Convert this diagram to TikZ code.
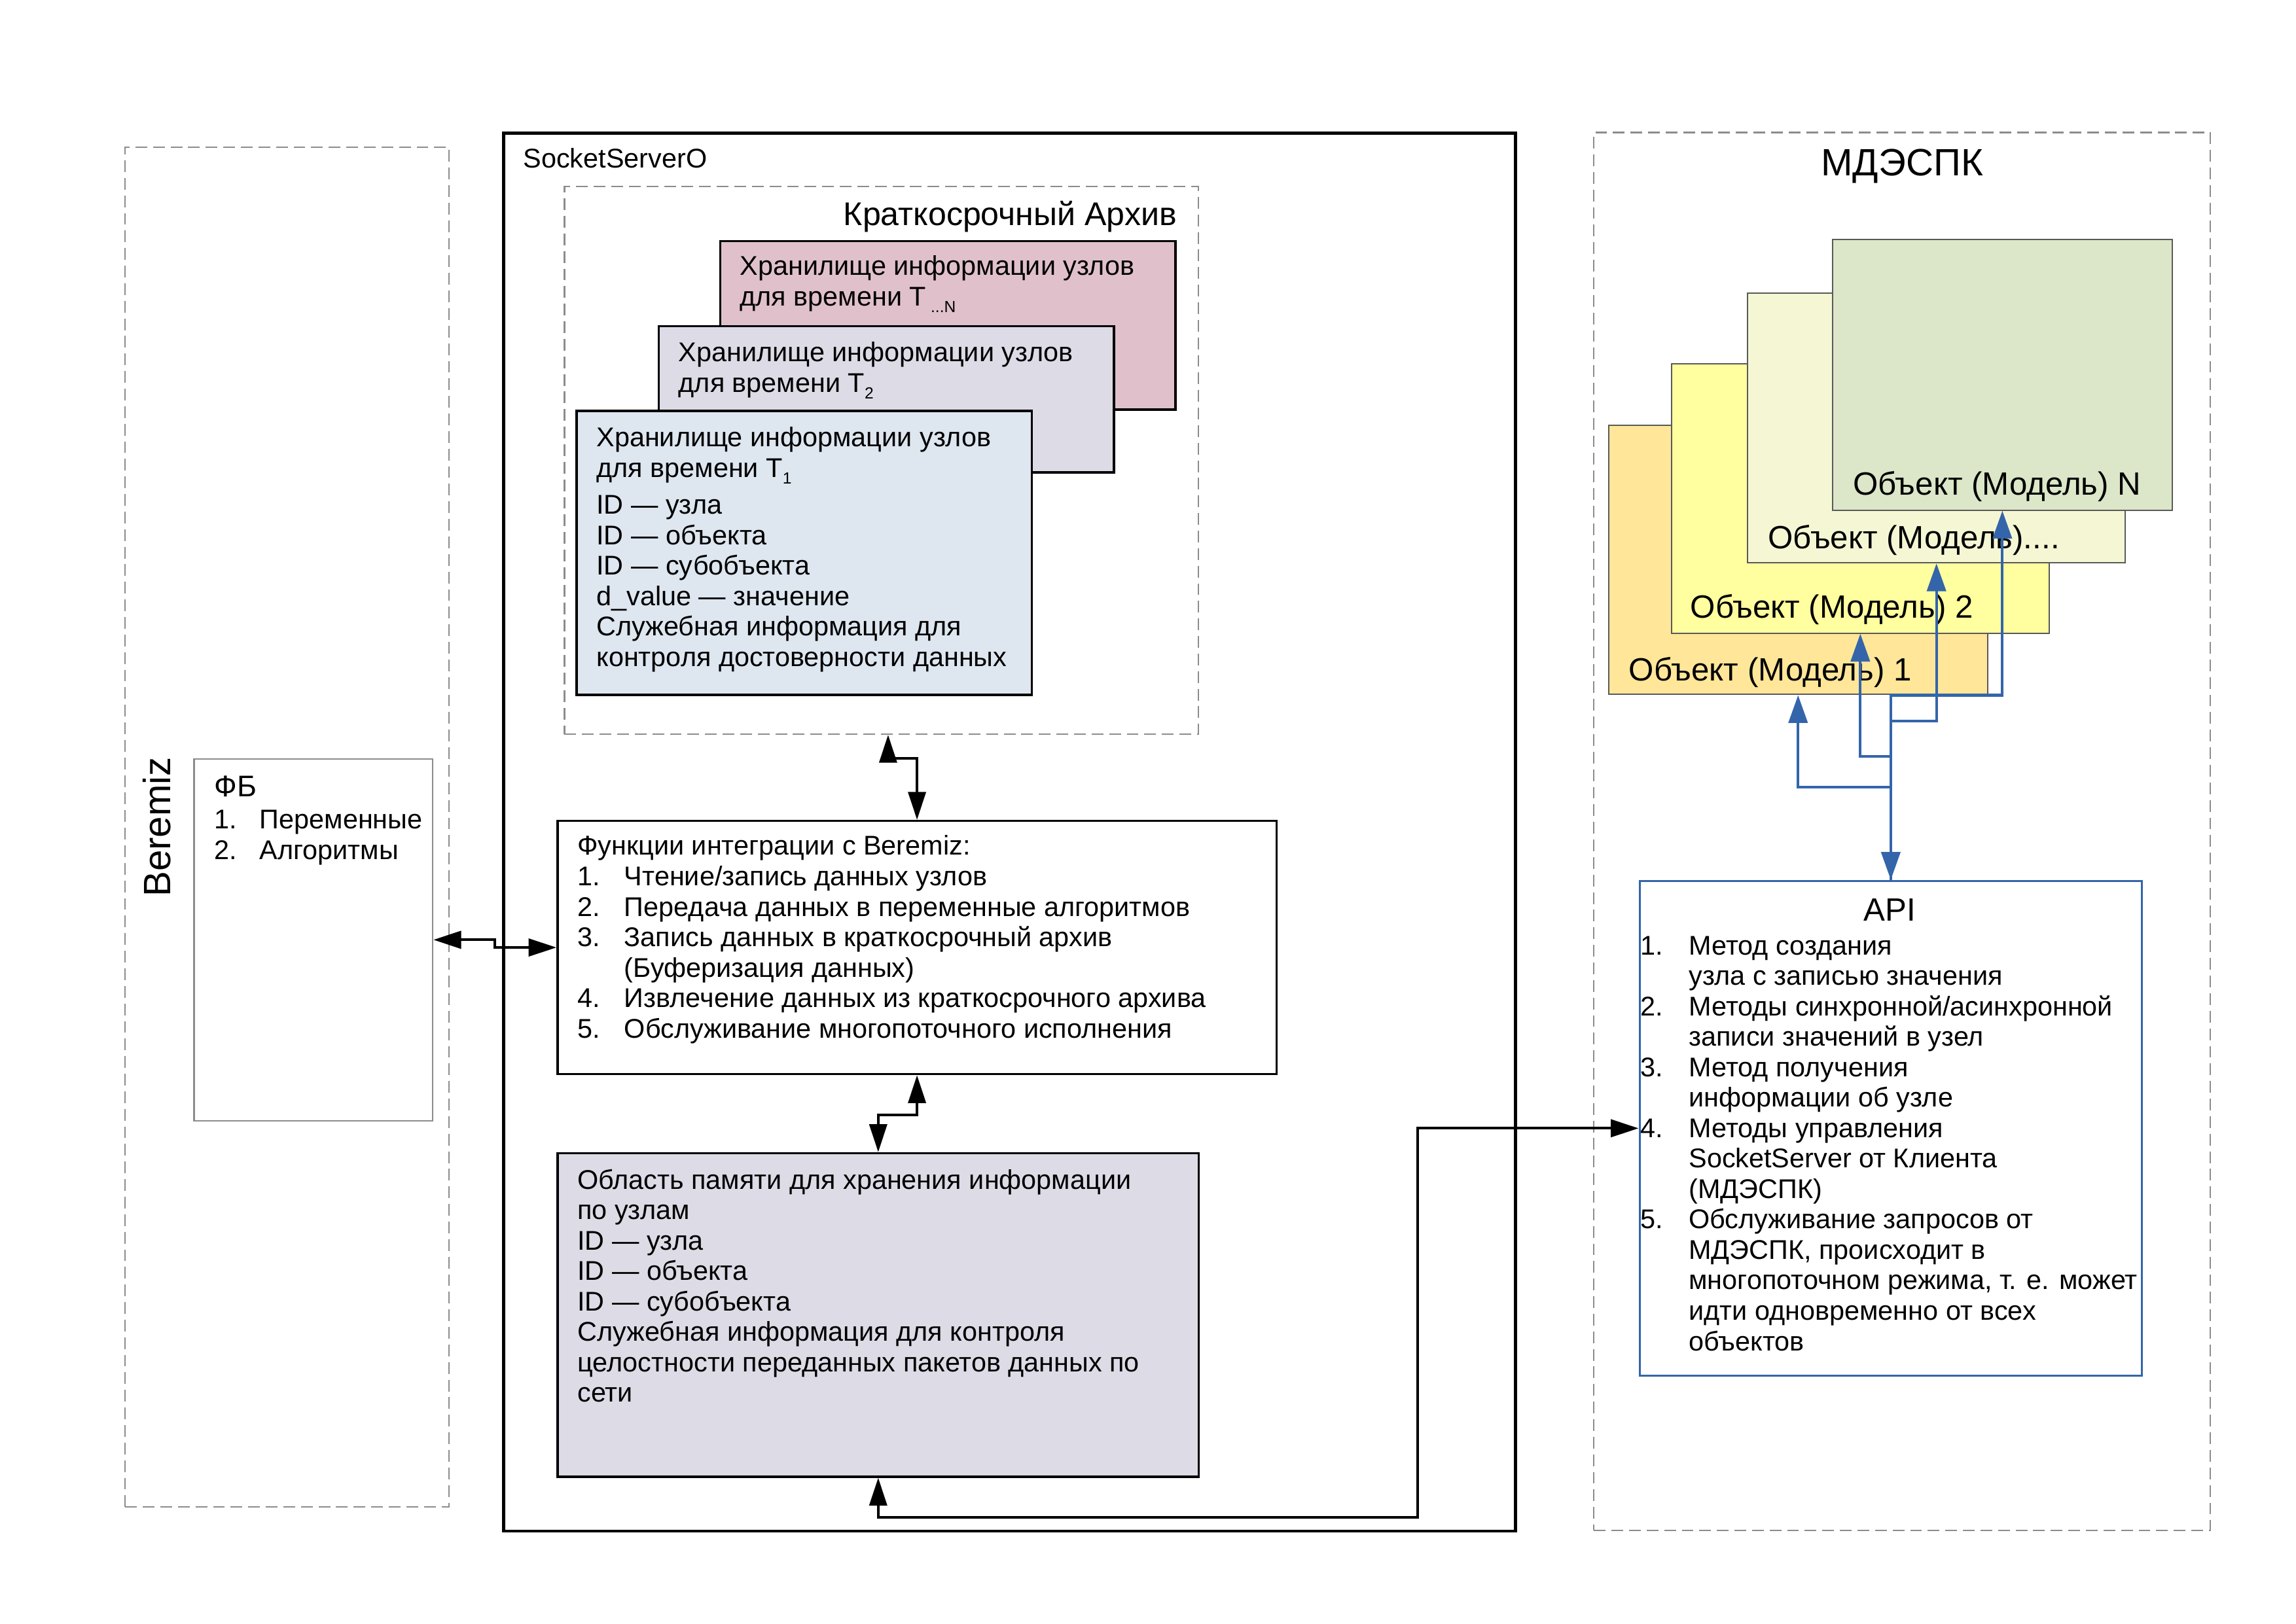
\documentclass[tikz,border=0pt]{standalone}
\usepackage{fontspec}
\setmainfont{Liberation Sans}
\usetikzlibrary{arrows.meta}
\definecolor{pinkN}{RGB}{224,193,203}
\definecolor{lavend}{RGB}{221,219,230}
\definecolor{lblue}{RGB}{222,230,240}
\definecolor{objA}{RGB}{255,230,153}
\definecolor{objB}{RGB}{255,255,159}
\definecolor{objC}{RGB}{245,247,212}
\definecolor{objD}{RGB}{220,230,200}
\definecolor{apiblue}{RGB}{52,101,170}
\definecolor{dashgray}{RGB}{140,140,140}
\newcommand\itm[1]{\makebox[16pt][l]{#1}}
\newcommand\subT[1]{\raisebox{-0.45ex}{\fontsize{5.5}{6}\selectfont #1}}
\begin{document}
\begin{tikzpicture}[x=0.5pt,y=-0.5pt,
  dashbox/.style={draw=dashgray, dash pattern=on 4pt off 2pt, line width=0.5pt, inner sep=0pt, anchor=north west},
  solidbox/.style={draw=black, line width=0.75pt, inner sep=0pt, anchor=north west},
  objbox/.style={draw=black!65, line width=0.45pt, inner sep=0pt, anchor=north west},
  txt/.style={inner sep=0pt, anchor=north west, align=left, font=\fontsize{9.25}{10.4}\selectfont},
  onetxt/.style={inner sep=0pt, anchor=base west, font=\fontsize{9.25}{10.4}\selectfont},
  bigtxt/.style={inner sep=0pt, font=\fontsize{11}{12}\selectfont},
  tipb/.tip={Triangle[length=9.5pt,width=6pt]},
  biconn/.style={line width=0.9pt, tipb-tipb},
  blueconn/.style={draw=apiblue, line width=0.9pt, -{Triangle[length=9.5pt,width=6.5pt,color=apiblue]}},
  bluebi/.style={draw=apiblue, line width=0.9pt, {Triangle[length=9.5pt,width=6.5pt,color=apiblue]}-{Triangle[length=9.5pt,width=6.5pt,color=apiblue]}}
]
\useasboundingbox (0,0) rectangle (1568,1109);
\fill[white] (0,0) rectangle (1568,1109);

% ---------- Beremiz ----------
\node[dashbox, minimum width=110.5pt, minimum height=464.5pt] (beremiz) at (85,100) {};
\node[rotate=90, inner sep=0pt, font=\fontsize{13}{14}\selectfont] (berlbl) at (107,565) {Beremiz};
\node[draw=black!45, line width=0.5pt, inner sep=0pt, anchor=north west, minimum width=81.5pt, minimum height=123.5pt] (fb) at (132,518) {};
\node[inner sep=0pt, anchor=base west, font=\fontsize{10.2}{12}\selectfont] (fbtitle) at (146,544) {ФБ};
\node[txt] (fbtext) at (146,551.2) {\strut\makebox[15.5pt][l]{1.}Переменные\\ \makebox[15.5pt][l]{2.}Алгоритмы};

% ---------- SocketServerO ----------
\node[draw=black, line width=0.95pt, inner sep=0pt, anchor=north west, minimum width=345.5pt, minimum height=477.5pt] (socket) at (343,90) {};
\node[onetxt] (socklbl) at (357,114.5) {SocketServerO};

\node[dashbox, minimum width=216.5pt, minimum height=187pt] (archive) at (385,127) {};
\node[inner sep=0pt, font=\fontsize{11.2}{12}\selectfont, anchor=base east] (archlbl) at (804,154) {Краткосрочный Архив};

\node[solidbox, fill=pinkN, minimum width=155.5pt, minimum height=57.5pt] (sN) at (491,164) {};
\node[txt] (sNtext) at (505,173.2) {\strut Хранилище информации узлов\\ для времени T\,\subT{...N}};
\node[solidbox, fill=lavend, minimum width=155.5pt, minimum height=50pt] (s2) at (449,222) {};
\node[txt] (s2text) at (463,232.2) {\strut Хранилище информации узлов\\ для времени T\subT{2}};
\node[solidbox, fill=lblue, minimum width=155.5pt, minimum height=97pt] (s1) at (393,280) {};
\node[txt] (s1text) at (407,290.2) {\strut Хранилище информации узлов\\ для времени T\subT{1}\\[2.2pt]
ID — узла\\ ID — объекта\\ ID — субобъекта\\ d\_value — значение\\ Служебная информация для\\ контроля достоверности данных};

\node[solidbox, minimum width=245.5pt, minimum height=86.5pt] (func) at (380,560) {};
\node[txt] (functext) at (394,569.2) {\strut Функции интеграции с Beremiz:\\
\itm{1.}Чтение/запись данных узлов\\
\itm{2.}Передача данных в переменные алгоритмов\\
\itm{3.}Запись данных в краткосрочный архив\\
\itm{}(Буферизация данных)\\
\itm{4.}Извлечение данных из краткосрочного архива\\
\itm{5.}Обслуживание многопоточного исполнения};

\node[solidbox, fill=lavend, minimum width=219pt, minimum height=110.5pt] (mem) at (380,787) {};
\node[txt] (memtext) at (394,797.2) {\strut Область памяти для хранения информации\\ по узлам\\ ID — узла\\ ID — объекта\\ ID — субобъекта\\ Служебная информация для контроля\\ целостности переданных пакетов данных по\\ сети};

% ---------- МДЭСПК ----------
\node[dashbox, minimum width=210.5pt, minimum height=477.5pt] (mdespk) at (1088,90) {};
\node[inner sep=0pt, anchor=base, font=\fontsize{13}{14}\selectfont] (mdlbl) at (1299,120) {МДЭСПК};

\node[objbox, fill=objA, minimum width=129.5pt, minimum height=92pt] (o1) at (1098,290) {};
\node[bigtxt, anchor=base west] (o1lbl) at (1112,465) {Объект (Модель) 1};
\node[objbox, fill=objB, minimum width=129pt, minimum height=92pt] (o2) at (1141,248) {};
\node[bigtxt, anchor=base west] (o2lbl) at (1154,422) {Объект (Модель) 2};
\node[objbox, fill=objC, minimum width=129pt, minimum height=92pt] (o3) at (1193,200) {};
\node[bigtxt, anchor=base west] (o3lbl) at (1207,375) {Объект (Модель)....};
\node[objbox, fill=objD, minimum width=116pt, minimum height=92.5pt] (oN) at (1251,163) {};
\node[bigtxt, anchor=base west] (oNlbl) at (1265,338) {Объект (Модель) N};

\node[draw=apiblue, line width=0.75pt, inner sep=0pt, anchor=north west, minimum width=171.5pt, minimum height=169pt] (api) at (1119,601) {};
\node[bigtxt, anchor=base] (apilbl) at (1290.5,629) {API};
\node[txt] (apitext) at (1120,637.2) {\strut\makebox[16.5pt][l]{1.}Метод создания\\
\makebox[16.5pt][l]{}узла с записью значения\\
\makebox[16.5pt][l]{2.}Методы синхронной/асинхронной\\
\makebox[16.5pt][l]{}записи значений в узел\\
\makebox[16.5pt][l]{3.}Метод получения\\
\makebox[16.5pt][l]{}информации об узле\\
\makebox[16.5pt][l]{4.}Методы управления\\
\makebox[16.5pt][l]{}SocketServer от Клиента\\
\makebox[16.5pt][l]{}(МДЭСПК)\\
\makebox[16.5pt][l]{5.}Обслуживание запросов от\\
\makebox[16.5pt][l]{}МДЭСПК, происходит в\\
\makebox[16.5pt][l]{}многопоточном режима, т. е. может\\
\makebox[16.5pt][l]{}идти одновременно от всех\\
\makebox[16.5pt][l]{}объектов};

% ---------- connectors ----------
\draw[biconn] ([xshift=2.25pt]archive.south) -- ++(0,16) -| (func.north);
\draw[biconn] (fb.east) -- ++(42,0) |- (func.west);
\draw[biconn] (func.south) -- ++(0,27) -| (mem.north);
\draw[biconn] (mem.south) -- ++(0,27) -| ([xshift=-75.5pt]api.west) -- (api.west);

\draw[bluebi] (api.north) -- (api.north |- o1.south) -| (oN.south);
\draw[blueconn] (api.north) -- ++(0,-108.4) -| (o3.south);
\draw[blueconn] (api.north) -- ++(0,-84.4) -| (o2.south);
\draw[blueconn] (api.north) -- ++(0,-63.2) -| (o1.south);
\end{tikzpicture}
\end{document}
